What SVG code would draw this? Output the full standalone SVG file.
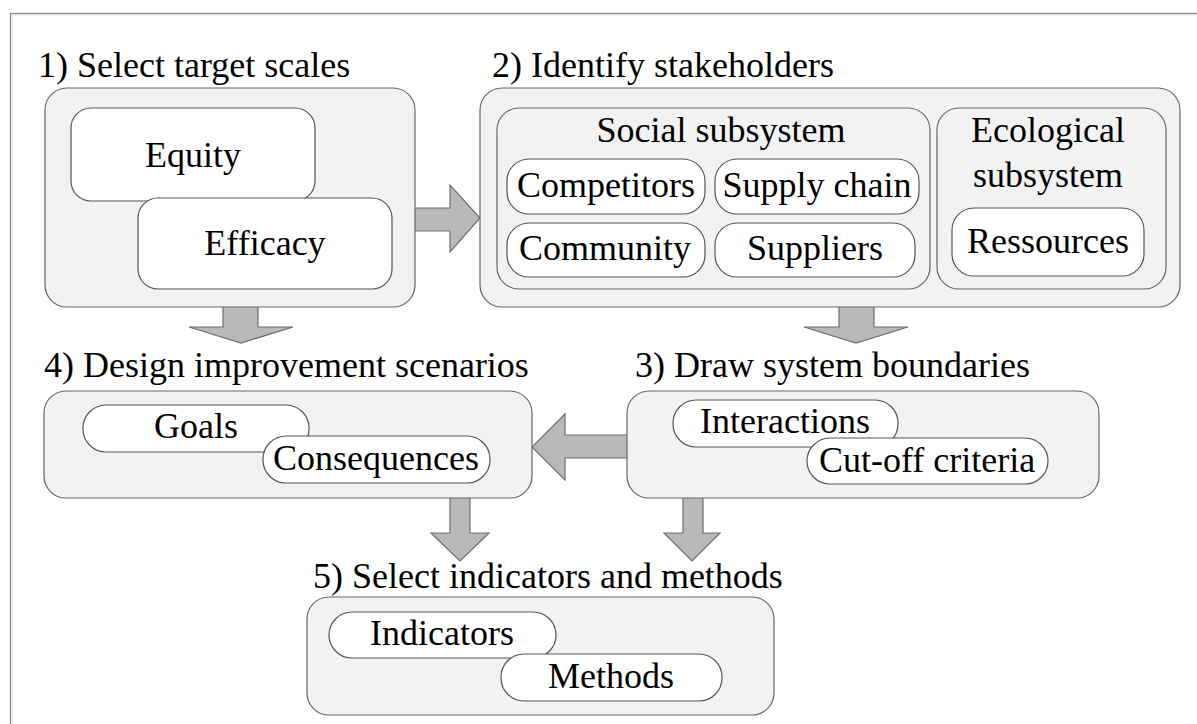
<svg xmlns="http://www.w3.org/2000/svg" width="1197" height="724" viewBox="0 0 1197 724">
<style>
text{font-family:"Liberation Serif","Times New Roman",Times,"Nimbus Roman","Nimbus Roman No9 L",Tinos,"FreeSerif","Noto Serif","DejaVu Serif",Georgia,serif;font-size:36px;fill:#000}
.m{text-anchor:middle}
.outer{fill:#f2f2f2;stroke:#666;stroke-width:1.2}
.inner{fill:#fff;stroke:#555;stroke-width:1.2}
.arr{fill:#b9b9b9;stroke:#6e6e6e;stroke-width:1.2;stroke-linejoin:miter}
</style>
<rect x="0" y="0" width="1197" height="724" fill="#fff"/>
<rect x="10.5" y="13.5" width="1300" height="800" fill="none" stroke="#888" stroke-width="1.2"/>
<rect x="12" y="15" width="1300" height="800" fill="none" stroke="#ddd" stroke-width="1"/>
<g id="connectors">
<polygon class="arr" points="410,208 450,208 450,185 480,218 450,252 450,231 410,231"/>
<polygon class="arr" points="223,303 258,303 258,327 293,327 241,343 189,327 223,327"/>
<polygon class="arr" points="839,303 874,303 874,327 908,327 856,343 804,327 839,327"/>
<polygon class="arr" points="631,435 565,435 565,414 532,447 565,480 565,458 631,458"/>
<polygon class="arr" points="450,494 470,494 470,533 489,533 460,561 431,533 450,533"/>
<polygon class="arr" points="683,494 703,494 703,533 720,533 692,561 664,533 683,533"/>
</g>
<g id="step1">
<text x="38" y="77">1) Select target scales</text>
<rect class="outer" x="45" y="88" width="370" height="219" rx="22"/>
<g id="equity"><rect class="inner" x="71" y="108" width="244" height="93" rx="20"/><text class="m" x="193" y="167">Equity</text></g>
<g id="efficacy"><rect class="inner" x="138" y="198" width="254" height="91" rx="20"/><text class="m" x="265" y="255">Efficacy</text></g>
</g>
<g id="step2">
<text x="492" y="77">2) Identify stakeholders</text>
<rect class="outer" x="480" y="88" width="700" height="219" rx="22"/>
<g id="social">
<rect class="outer" x="497" y="108" width="433" height="181" rx="22"/>
<text class="m" x="721" y="142">Social subsystem</text>
<g id="competitors"><rect class="inner" x="507" y="159" width="198" height="55" rx="22"/><text class="m" x="606" y="197">Competitors</text></g>
<g id="supplychain"><rect class="inner" x="715" y="159" width="204" height="55" rx="22"/><text class="m" x="817" y="197">Supply chain</text></g>
<g id="community"><rect class="inner" x="507" y="223" width="198" height="54" rx="22"/><text class="m" x="605" y="260">Community</text></g>
<g id="suppliers"><rect class="inner" x="715" y="223" width="200" height="54" rx="22"/><text class="m" x="815" y="260">Suppliers</text></g>
</g>
<g id="ecological">
<rect class="outer" x="937" y="108" width="229" height="181" rx="22"/>
<text class="m" x="1048" y="142">Ecological</text>
<text class="m" x="1048" y="187">subsystem</text>
<g id="ressources"><rect class="inner" x="952" y="208" width="192" height="68" rx="22"/><text class="m" x="1048" y="253">Ressources</text></g>
</g>
</g>
<g id="step3">
<text x="635" y="377">3) Draw system boundaries</text>
<rect class="outer" x="627" y="391" width="472" height="107" rx="22"/>
<g id="interactions"><rect class="inner" x="673" y="400" width="225" height="47" rx="23"/><text class="m" x="785" y="433">Interactions</text></g>
<g id="cutoff"><rect class="inner" x="807" y="438" width="241" height="46" rx="23"/><text class="m" x="927" y="472">Cut-off criteria</text></g>
</g>
<g id="step4">
<text x="44" y="377">4) Design improvement scenarios</text>
<rect class="outer" x="44" y="391" width="488" height="107" rx="22"/>
<g id="goals"><rect class="inner" x="83" y="405" width="226" height="47" rx="23"/><text class="m" x="196" y="438">Goals</text></g>
<g id="consequences"><rect class="inner" x="263" y="436" width="227" height="47" rx="23"/><text class="m" x="376" y="470">Consequences</text></g>
</g>
<g id="step5">
<text x="313" y="588">5) Select indicators and methods</text>
<rect class="outer" x="307" y="597" width="467" height="118" rx="22"/>
<g id="indicators"><rect class="inner" x="329" y="612" width="227" height="46" rx="23"/><text class="m" x="442" y="645">Indicators</text></g>
<g id="methods"><rect class="inner" x="501" y="654" width="221" height="47" rx="23"/><text class="m" x="611" y="688">Methods</text></g>
</g>
</svg>
